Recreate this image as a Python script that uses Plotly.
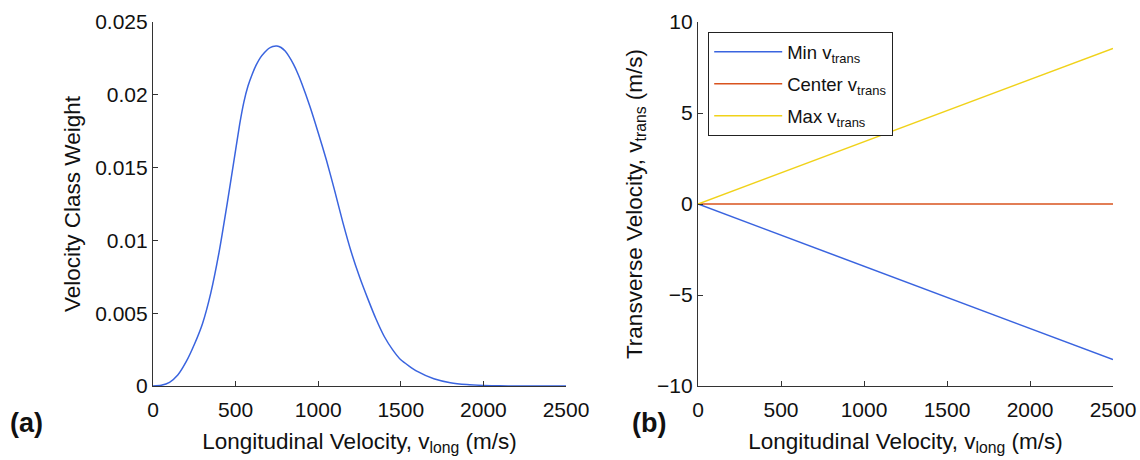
import plotly.graph_objects as go

# Panel (a): velocity class weight distribution
v_long = [0, 50, 100, 150, 200, 250, 300, 350, 400, 450, 500, 525, 550, 575, 600, 625, 650, 675,
          700, 725, 750, 775, 800, 825, 850, 875, 900, 950, 1000, 1050, 1100, 1150, 1200, 1250,
          1300, 1350, 1400, 1450, 1500, 1600, 1700, 1800, 1900, 2000, 2100, 2200, 2300, 2400, 2500]
weight = [0, 0.00005, 0.00025, 0.00075, 0.00165, 0.00285, 0.0043, 0.0064, 0.0092, 0.0126,
          0.0162, 0.0180, 0.0195, 0.0206, 0.0214, 0.02205, 0.02255, 0.0229,
          0.02318, 0.02332, 0.02335, 0.02325, 0.0230, 0.0226, 0.0221, 0.0215, 0.0208, 0.0192,
          0.0174, 0.0155, 0.0134, 0.0112, 0.0092, 0.0075, 0.0060, 0.0046, 0.0034, 0.0025,
          0.0018, 0.0010, 0.0005, 0.00023, 0.0001, 0.00004, 0.00001, 0.0, 0.0, 0.0, 0.0]

# Panel (b): transverse velocity bounds
v_long_b = [0, 2500]
v_min = [0, -8.55]
v_center = [0, 0]
v_max = [0, 8.55]

FONT = "Liberation Sans, Arial, sans-serif"
BLUE = "#3a64df"
ORANGE = "#d9531e"
YELLOW = "#f0d21a"
AX = "#333333"

fig = go.Figure()
fig.add_trace(go.Scatter(x=v_long, y=weight, mode="lines", line=dict(color=BLUE, width=1.5, shape="spline", smoothing=0.6),
                         showlegend=False, xaxis="x", yaxis="y"))
fig.add_trace(go.Scatter(x=v_long_b, y=v_min, mode="lines", line=dict(color=BLUE, width=1.5),
                         name="Min v<sub>trans</sub>", legendgroup="a", xaxis="x2", yaxis="y2"))
fig.add_trace(go.Scatter(x=v_long_b, y=v_center, mode="lines", line=dict(color=ORANGE, width=1.5),
                         name="Center v<sub>trans</sub>", legendgroup="b", xaxis="x2", yaxis="y2"))
fig.add_trace(go.Scatter(x=v_long_b, y=v_max, mode="lines", line=dict(color=YELLOW, width=1.5),
                         name="Max v<sub>trans</sub>", legendgroup="c", xaxis="x2", yaxis="y2"))

axis_common = dict(showgrid=False, zeroline=False, showline=True, linecolor=AX, linewidth=1.2,
                   ticks="inside", ticklen=5, tickcolor=AX, mirror=False, automargin=False,
                   tickfont=dict(family=FONT, size=21, color="#111"))
TITLE_FONT = dict(family=FONT, size=22.5, color="#111")

fig.update_layout(
    width=1140, height=460,
    paper_bgcolor="white", plot_bgcolor="white",
    margin=dict(l=0, r=0, t=22, b=74),
    font=dict(family=FONT, color="#111"),
    xaxis=dict(domain=[153/1140, 566/1140], range=[0, 2500], tickvals=[0, 500, 1000, 1500, 2000, 2500],
               title=dict(text="Longitudinal Velocity, v<sub>long</sub> (m/s)", font=TITLE_FONT, standoff=12),
               ticklabelstandoff=5, anchor="y", **axis_common),
    yaxis=dict(domain=[0, 1], range=[0, 0.025], tickvals=[0, 0.005, 0.01, 0.015, 0.02, 0.025],
               ticktext=["0", "0.005", "0.01", "0.015", "0.02", "0.025"],
               title=dict(text="Velocity Class Weight", font=TITLE_FONT, standoff=8),
               anchor="x", **axis_common),
    xaxis2=dict(domain=[698/1140, 1113/1140], range=[0, 2500], tickvals=[0, 500, 1000, 1500, 2000, 2500],
                title=dict(text="Longitudinal Velocity, v<sub>long</sub> (m/s)", font=TITLE_FONT, standoff=12),
                ticklabelstandoff=5, anchor="y2", **axis_common),
    yaxis2=dict(domain=[0, 1], range=[-10, 10], tickvals=[-10, -5, 0, 5, 10],
                title=dict(text="Transverse Velocity, v<sub>trans</sub> (m/s)", font=TITLE_FONT, standoff=8),
                anchor="x2", **axis_common),
    legend=dict(x=708/1140, y=(386-32)/364, xanchor="left", yanchor="top",
                bgcolor="white", bordercolor="#222", borderwidth=1.2,
                font=dict(family=FONT, size=18.5, color="#111"), tracegroupgap=5,
                itemwidth=68),
    annotations=[
        dict(text="<b>(a)</b>", x=8/1140, y=(386-423)/364, xref="paper", yref="paper", xanchor="left", yanchor="middle",
             showarrow=False, font=dict(family=FONT, size=27, color="#111")),
        dict(text="<b>(b)</b>", x=630/1140, y=(386-423)/364, xref="paper", yref="paper", xanchor="left", yanchor="middle",
             showarrow=False, font=dict(family=FONT, size=27, color="#111")),
    ],
)

fig.write_html("out.html", config={"displayModeBar": False},
               post_script="document.body.style.margin='0px';")
